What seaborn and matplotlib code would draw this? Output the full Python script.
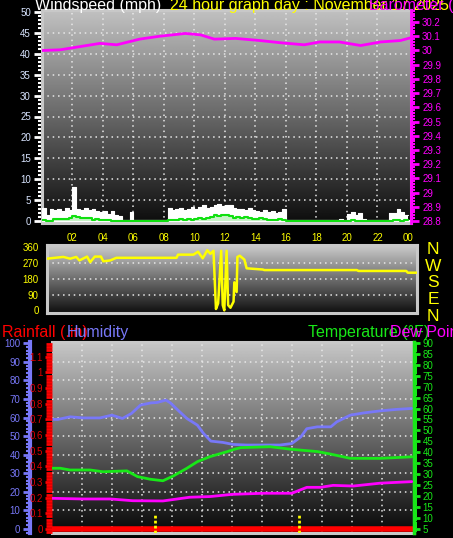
import numpy as np
import matplotlib
matplotlib.use("Agg")
import matplotlib.pyplot as plt
from matplotlib.ticker import MultipleLocator, FixedLocator
import seaborn as sns

sns.set_theme(style="dark", rc={"figure.facecolor": "black", "axes.facecolor": "black"})
plt.rcParams["font.family"] = ["Liberation Sans", "DejaVu Sans"]

# ---- data ----
hour_ticks = [2, 4, 6, 8, 10, 12, 14, 16, 18, 20, 22, 24]
hour_labels = ["02", "04", "06", "08", "10", "12", "14", "16", "18", "20", "22", "00"]

# wind, 15 minute samples (mph)
gust_mph = [
    3.2, 1.5, 3.0, 2.8, 3.0, 2.5, 3.2, 2.8, 8.3, 3.0, 2.6, 3.2,
    2.8, 3.0, 2.5, 2.2, 2.4, 1.8, 2.5, 1.5, 1.2, 0.0, 0.0, 2.3,
    0.0, 0.0, 0.0, 0.0, 0.0, 0.0, 0.0, 0.0, 0.0, 3.2, 2.8, 3.0,
    3.2, 2.8, 3.0, 3.3, 3.0, 3.5, 3.9, 3.2, 3.5, 3.8, 4.2, 3.6,
    4.0, 3.8, 3.2, 3.0, 3.0, 2.8, 3.2, 2.6, 2.4, 2.2, 2.6, 2.2,
    2.4, 2.0, 2.2, 3.0, 0.0, 0.0, 0.0, 0.0, 0.0, 0.0, 0.0, 0.0,
    0.0, 0.0, 0.0, 0.0, 0.0, 0.0, 0.6, 0.0, 1.8, 2.2, 1.6, 2.0,
    0.5, 0.0, 0.0, 0.0, 0.0, 0.0, 0.0, 2.0, 2.0, 3.0, 2.2, 1.5,
]
avg_mph = [
    0.4, 0.1, 0.0, 0.5, 0.6, 0.5, 0.6, 0.9, 1.2, 1.0, 0.8, 0.9,
    0.7, 0.4, 0.5, 0.3, 0.3, 0.4, 0.1, 0.0, 0.0, 0.0, 0.0, 0.0,
    0.0, 0.0, 0.0, 0.0, 0.0, 0.0, 0.0, 0.0, 0.0, 0.2, 0.4, 0.3,
    0.5, 0.3, 0.6, 0.4, 0.5, 0.8, 0.6, 0.7, 1.0, 1.4, 1.3, 1.5,
    1.4, 1.2, 0.9, 1.0, 0.8, 1.0, 0.7, 0.6, 0.5, 0.8, 0.6, 0.4,
    0.4, 0.3, 0.5, 0.2, 0.0, 0.0, 0.0, 0.0, 0.0, 0.0, 0.0, 0.0,
    0.0, 0.0, 0.0, 0.0, 0.0, 0.0, 0.0, 0.0, 0.1, 0.2, 0.1, 0.0,
    0.0, 0.0, 0.0, 0.0, 0.0, 0.0, 0.0, 0.0, 0.2, 0.3, 0.1, 0.2,
]

press_hours = [0.0, 1.2, 3.8, 4.9, 6.4, 7.7, 9.4, 10.4, 11.3, 12.7, 14.3,
               15.6, 17.2, 18.2, 19.5, 20.9, 22.2, 23.5, 24.2]
press_inhg = [30.00, 30.005, 30.05, 30.04, 30.08, 30.10, 30.12, 30.11, 30.08,
              30.085, 30.07, 30.055, 30.04, 30.06, 30.06, 30.035, 30.06, 30.07, 30.09]

dir_hours = [0.0, 0.2, 1.06, 1.5, 1.9, 2.1, 2.6, 2.8, 3.1, 3.5, 3.65, 4.1, 4.5,
             8.4, 8.5, 9.5, 9.8, 10.1, 10.4, 10.6, 10.8, 10.96, 11.1, 11.3, 11.4,
             11.5, 11.65, 11.75, 11.9, 12.1, 12.15, 12.3, 12.35, 12.5, 12.8, 12.95,
             14.0, 14.1, 20.1, 20.2, 23.3, 23.4, 24.0]
dir_deg = [295, 297, 305, 295, 305, 285, 307, 275, 307, 307, 280, 285, 300,
           300, 318, 318, 335, 297, 343, 323, 340, 8, 40, 340, 30,
           0, 340, 30, 15, 50, 160, 105, 305, 312, 290, 240,
           233, 230, 230, 225, 225, 215, 215]
compass = ["N", "W", "S", "E", "N"]

hum_hours = [0.0, 0.4, 1.2, 2.1, 3.2, 4.0, 4.7, 5.3, 5.9, 6.6, 7.0, 7.6, 7.9,
             8.4, 9.0, 9.7, 10.1, 10.6, 11.4, 12.1, 13.0, 14.1, 15.2, 16.0,
             16.6, 17.0, 17.7, 18.6, 19.0, 19.9, 20.8, 21.9, 23.0, 24.0]
hum_pct = [59.0, 59.0, 60.4, 59.8, 59.8, 61.3, 59.5, 62.2, 66.7, 67.9, 68.1, 69.4, 67.9,
           64.0, 59.5, 55.9, 51.5, 47.3, 46.6, 45.5, 45.2, 45.2, 45.2, 46.0,
           49.6, 54.0, 55.0, 55.0, 57.7, 61.3, 62.5, 63.6, 64.4, 64.9]

temp_hours = [0.0, 0.55, 1.2, 2.55, 3.4, 5.0, 5.7, 6.55, 7.4, 8.1, 9.0, 9.7,
              10.55, 11.7, 12.2, 12.6, 14.55, 16.0, 17.7, 18.55, 19.9, 21.9, 24.0]
temp_f = [32.8, 32.8, 32.0, 32.0, 31.2, 31.6, 29.0, 27.8, 27.1, 29.3, 32.8, 35.8,
          38.1, 40.4, 41.5, 42.2, 42.6, 41.4, 40.4, 39.3, 37.3, 37.3, 38.0]

dew_hours = [0.0, 2.1, 3.9, 5.4, 7.4, 9.2, 10.55, 12.0, 14.1, 16.0, 17.0, 17.9,
             18.75, 20.1, 21.9, 24.0]
dew_f = [19.1, 18.8, 18.8, 18.0, 17.9, 19.6, 19.9, 20.9, 21.4, 21.4, 24.1, 24.1,
         25.0, 24.7, 26.0, 26.7]

rain_hours = [0.0, 24.15]
rain_in = [0.0, 0.0]
marker_hours = [6.9, 16.5]

# ---- layout ----
W, H = 453, 538
fig = plt.figure(figsize=(W / 100, H / 100), dpi=100, facecolor="black")


def px_axes(x0, y0, x1, y1):
    return fig.add_axes([x0 / W, 1 - y1 / H, (x1 - x0) / W, (y1 - y0) / H])


def gradient(ax, top, bottom):
    grad = np.linspace(top, bottom, 256).reshape(-1, 1)
    ax.imshow(grad, cmap="gray", vmin=0, vmax=1, aspect="auto",
              extent=(0, 1, 0, 1), transform=ax.transAxes, zorder=0)


def frame(ax):
    for s in ax.spines.values():
        s.set_color("#c8c8c8")
        s.set_linewidth(2.2)
        s.set_visible(True)


def hide_spines(ax):
    for s in ax.spines.values():
        s.set_visible(False)


grid_kw = dict(color="#e8e8e8", linestyle=(0, (1, 2.5)), linewidth=1.1, zorder=1)

# ---- wind speed / barometer panel ----
ax_w = px_axes(42, 10, 411, 223)
gradient(ax_w, 0.76, 0.05)
t15 = np.append(np.arange(len(gust_mph)) * 0.25, 24.0)
gust = np.append(gust_mph, gust_mph[-1])
avg = np.append(avg_mph, avg_mph[-1])
ax_w.fill_between(t15, gust, step="post", color="white", lw=0, zorder=3)
ax_w.step(t15, gust, where="post", color="white", lw=0.8, zorder=3)
ax_w.axhline(0, color="white", lw=1.6, zorder=3)
ax_w.fill_between(t15, avg, step="post", color="#c8f2c8", lw=0, zorder=4)
ax_w.step(t15, avg, where="post", color="#10e010", lw=1.5, zorder=5)
ax_w.set_xlim(0, 24.2)
ax_w.set_ylim(-0.4, 50.4)
for v in range(5, 50, 5):
    ax_w.axhline(v, **grid_kw)
for h in hour_ticks[:-1]:
    ax_w.axvline(h, **grid_kw)
ax_w.xaxis.set_major_locator(FixedLocator(hour_ticks))
ax_w.set_xticklabels(hour_labels)
ax_w.xaxis.set_minor_locator(MultipleLocator(2 / 3))
ax_w.yaxis.set_major_locator(MultipleLocator(5))
ax_w.yaxis.set_minor_locator(MultipleLocator(1))
ax_w.tick_params(axis="x", which="both", colors="#909090", length=3, width=1.5,
                 labelcolor="#ffff00", labelsize=7, pad=4)
ax_w.tick_params(axis="y", which="major", colors="white", length=6, width=2,
                 labelcolor="#d8e4ff", labelsize=7, pad=2)
ax_w.tick_params(axis="y", which="minor", colors="white", length=3, width=1.5)
frame(ax_w)

ax_p = ax_w.twinx()
sns.lineplot(x=press_hours, y=press_inhg, ax=ax_p, color="#ff00ff", lw=2,
             sort=False, estimator=None, legend=False, zorder=6)
ax_p.set_ylim(28.786, 30.285)
ax_p.yaxis.set_major_locator(MultipleLocator(0.1))
ax_p.yaxis.set_minor_locator(MultipleLocator(0.02))
ax_p.yaxis.set_major_formatter(plt.FuncFormatter(lambda v, p: f"{v:.1f}".rstrip("0").rstrip(".") if abs(v - round(v)) < 1e-6 else f"{v:.1f}"))
ax_p.tick_params(axis="y", which="major", colors="#ff00ff", length=6, width=2,
                 labelsize=7, pad=2)
ax_p.tick_params(axis="y", which="minor", colors="#ff00ff", length=3, width=1.5)
ax_p.set_ylabel("")
hide_spines(ax_p)
ax_p.spines["right"].set_visible(True)
ax_p.spines["right"].set_color("#ff00ff")
ax_p.spines["right"].set_linewidth(2)

# ---- wind direction panel ----
ax_d = px_axes(47, 245, 417, 313)
gradient(ax_d, 0.8, 0.06)
for v in (90, 180, 270):
    ax_d.axhline(v, **grid_kw)
sns.lineplot(x=dir_hours, y=dir_deg, ax=ax_d, color="#ffff00", lw=1.8,
             sort=False, estimator=None, legend=False, zorder=5)
ax_d.set_xlim(0, 24)
ax_d.set_ylim(-15, 373)
ax_d.set_xticks([])
ax_d.yaxis.set_major_locator(FixedLocator([0, 90, 180, 270, 360]))
ax_d.yaxis.set_minor_locator(MultipleLocator(10))
ax_d.tick_params(axis="y", which="major", colors="#ffff00", length=5, width=2,
                 labelsize=7, pad=1)
ax_d.tick_params(axis="y", which="minor", colors="#ffff00", length=3, width=1.5)
ax_d.set_ylabel("")
frame(ax_d)
for i, c in enumerate(compass):
    fig.text(433 / W, 1 - (249.5 + i * 16.7) / H, c, color="#ffff00",
             fontsize=12.5, ha="center", va="center")

# ---- humidity / rain / temperature panel ----
ax_h = px_axes(52, 342, 414, 533)
gradient(ax_h, 0.78, 0.03)
for v in range(10, 100, 10):
    ax_h.axhline(v, **grid_kw)
for h in range(2, 24, 2):
    ax_h.axvline(h, **grid_kw)
sns.lineplot(x=hum_hours, y=hum_pct, ax=ax_h, color="#7878f8", lw=2,
             sort=False, estimator=None, legend=False, zorder=5)
ax_h.set_xlim(0, 24.15)
ax_h.set_ylim(-2.2, 100.7)
ax_h.xaxis.set_major_locator(MultipleLocator(2 / 3))
ax_h.set_xticklabels([])
ax_h.tick_params(axis="x", colors="#909090", length=3, width=1.5)
ax_h.yaxis.set_major_locator(MultipleLocator(10))
ax_h.yaxis.set_minor_locator(MultipleLocator(2))
ax_h.tick_params(axis="y", which="major", colors="#7878f8", length=5, width=2,
                 labelsize=7, pad=2)
ax_h.tick_params(axis="y", which="minor", colors="#7878f8", length=3, width=1.5)
ax_h.set_ylabel("")
frame(ax_h)
ax_h.spines["left"].set_position(("axes", -22 / 362))
ax_h.spines["left"].set_color("#7878f8")
ax_h.spines["left"].set_linewidth(3)

ax_r = ax_h.twinx()
sns.lineplot(x=rain_hours, y=rain_in, ax=ax_r, color="#ff0000", lw=4,
             sort=False, estimator=None, legend=False, zorder=7)
ax_r.vlines(marker_hours, -0.0255, 0.096, colors="#ffff00",
            linestyles=(0, (1, 0.8)), lw=2, zorder=8)
ax_r.set_ylim(-0.0255, 1.194)
ax_r.yaxis.tick_left()
ax_r.yaxis.set_major_locator(MultipleLocator(0.1))
ax_r.yaxis.set_minor_locator(MultipleLocator(0.02))
ax_r.yaxis.set_major_formatter(plt.FuncFormatter(lambda v, p: f"{v:.1f}".rstrip("0").rstrip(".") if v > 1e-6 else "0"))
ax_r.tick_params(axis="y", which="major", colors="#ff0000", length=5, width=2,
                 labelcolor="#e00000", labelsize=7, pad=1.5)
ax_r.tick_params(axis="y", which="minor", colors="#ff0000", length=4, width=2)
ax_r.set_ylabel("")
hide_spines(ax_r)

ax_t = ax_h.twinx()
sns.lineplot(x=temp_hours, y=temp_f, ax=ax_t, color="#18e818", lw=2,
             sort=False, estimator=None, legend=False, zorder=5)
sns.lineplot(x=dew_hours, y=dew_f, ax=ax_t, color="#ff00ff", lw=2,
             sort=False, estimator=None, legend=False, zorder=5)
ax_t.set_ylim(3.3, 90.3)
ax_t.yaxis.set_major_locator(MultipleLocator(5))
ax_t.yaxis.set_minor_locator(MultipleLocator(1))
ax_t.tick_params(axis="y", which="major", colors="#18e818", length=4, width=2,
                 labelsize=7, pad=2)
ax_t.tick_params(axis="y", which="minor", colors="#18e818", length=2.5, width=1.5)
ax_t.set_ylabel("")
hide_spines(ax_t)
ax_t.spines["right"].set_visible(True)
ax_t.spines["right"].set_color("#18e818")
ax_t.spines["right"].set_linewidth(2.5)

# ---- titles ----
def title(x, y, s, color):
    fig.text(x / W, 1 - y / H, s, color=color, fontsize=11.5, ha="left", va="baseline")


title(35, 10, "Windspeed (mph)", "white")
title(170, 10, "24 hour graph day : November 17 2025 /", "#ffff00")
title(369, 10, "Barometer (in)", "#ff00ff")
title(2, 337, "Rainfall (.in)", "#ff0000")
title(67, 337, "Humidity", "#7878f8")
title(308, 337, "Temperature (°F)", "#18e818")
title(390, 337, "Dew Point", "#ff00ff")

fig.savefig("out.png", dpi=100, facecolor="black")
